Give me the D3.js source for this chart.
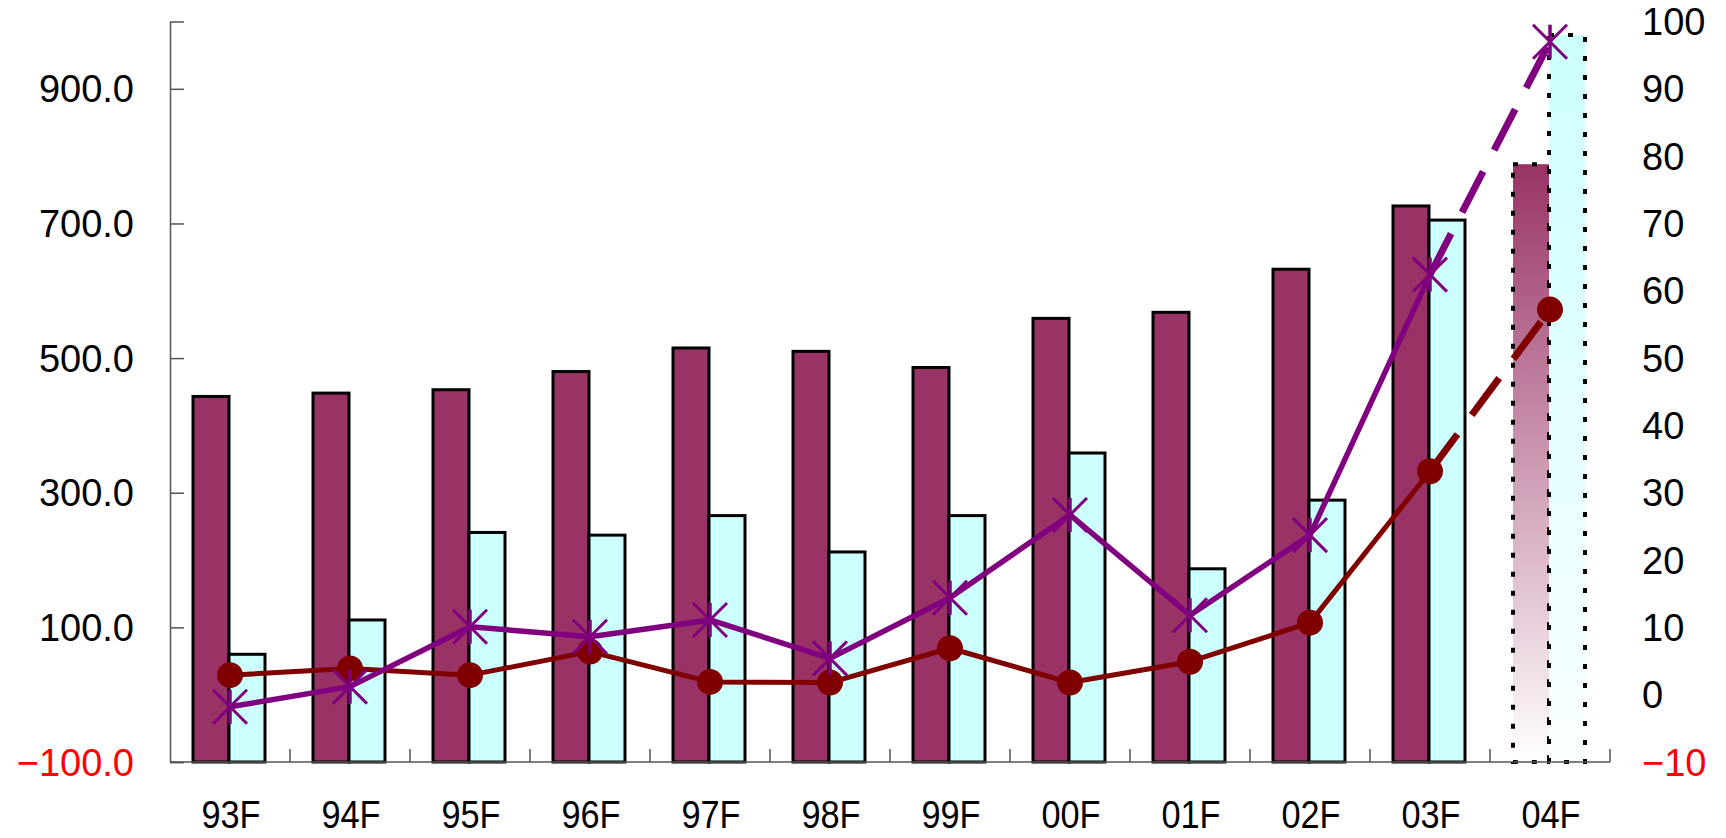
<!DOCTYPE html>
<html>
<head>
<meta charset="utf-8">
<script src="https://cdn.jsdelivr.net/npm/d3@7"></script>
<style>
  html, body { margin: 0; padding: 0; background: #ffffff; }
  svg { display: block; }
</style>
</head>
<body>
<svg id="chart" width="1726" height="838"></svg>
<script>
// ---------- data ----------
const categories = ["93F","94F","95F","96F","97F","98F","99F","00F","01F","02F","03F","04F"];
const barMaroon  = [443, 448, 453, 480, 515, 510, 486, 559, 568, 632, 726, 788];
const barCyan    = [60, 111, 241, 237, 266, 212, 266, 359, 187, 289, 705, 980];
const lineCircle = [2.9, 3.9, 2.9, 6.4, 1.9, 1.8, 6.9, 1.8, 4.9, 10.7, 33.2, 57.2];
const lineStar   = [-1.8, 1.2, 10.1, 8.6, 11.1, 5.4, 14.4, 26.7, 11.8, 23.7, 62.4, 97.0];
const leftTicks  = [-100, 100, 300, 500, 700, 900];
const rightTicks = [-10, 0, 10, 20, 30, 40, 50, 60, 70, 80, 90, 100];
const forecastCategory = "04F";

// ---------- layout ----------
const svg = d3.select("#chart");
const plot = { left: 170, right: 1610, top: 21.5, bottom: 762 };
const FONT = "'Liberation Sans', Arial, sans-serif";

const x = d3.scaleBand().domain(categories).range([plot.left, plot.right]).padding(0);
const yL = d3.scaleLinear().domain([-100, 1000]).range([plot.bottom, plot.top]);
const yR = d3.scaleLinear().domain([-10, 100]).range([plot.bottom, plot.top]);
const cx = c => x(c) + x.bandwidth() / 2;
const barW = 36;
const fIdx = categories.indexOf(forecastCategory);

// gradients for forecast bars
const defs = svg.append("defs");
function grad(id, top, bottom) {
  const g = defs.append("linearGradient").attr("id", id)
    .attr("x1", 0).attr("y1", 0).attr("x2", 0).attr("y2", 1);
  g.append("stop").attr("offset", "0%").attr("stop-color", top);
  g.append("stop").attr("offset", "100%").attr("stop-color", bottom);
}
grad("gMaroon", "#993366", "#ffffff");
grad("gCyan", "#ccffff", "#fbffff");

// ---------- bars ----------
const series = [
  { values: barMaroon, fill: "#993366", grad: "url(#gMaroon)", off: -barW },
  { values: barCyan,   fill: "#ccffff", grad: "url(#gCyan)",   off: 0 }
];
series.forEach(s => {
  svg.append("g").selectAll("rect").data(categories).join("rect")
    .attr("x", c => cx(c) + s.off - 1)
    .attr("width", barW)
    .attr("y", (c, i) => yL(s.values[i]))
    .attr("height", (c, i) => yL(-100) - yL(s.values[i]))
    .attr("fill", (c, i) => i === fIdx ? s.grad : s.fill)
    .attr("stroke", "#000")
    .attr("stroke-width", (c, i) => i === fIdx ? 4 : 3)
    .attr("stroke-dasharray", (c, i) => i === fIdx ? "5,14" : null);
});

// ---------- axes ----------
const axisColor = "#555";
// left axis
const gL = svg.append("g").attr("transform", `translate(${plot.left},0)`)
  .call(d3.axisRight(yL).tickValues(leftTicks).tickSize(14).tickFormat(""));
gL.select(".domain").attr("stroke", axisColor).attr("stroke-width", 1.5);
gL.selectAll(".tick line").attr("stroke", axisColor).attr("stroke-width", 1.5);
svg.append("g").selectAll("text").data(leftTicks).join("text")
  .attr("x", 134).attr("y", d => yL(d)).attr("dy", "0.36em")
  .attr("text-anchor", "end")
  .attr("font-family", FONT).attr("font-size", 38)
  .attr("fill", d => d < 0 ? "#ff0000" : "#000")
  .text(d => (d < 0 ? "\u2212" : "") + Math.abs(d).toFixed(1));

// right axis labels (no line)
svg.append("g").selectAll("text").data(rightTicks).join("text")
  .attr("x", 1642).attr("y", d => yR(d)).attr("dy", "0.36em")
  .attr("text-anchor", "start")
  .attr("font-family", FONT).attr("font-size", 38)
  .attr("fill", d => d < 0 ? "#ff0000" : "#000")
  .text(d => (d < 0 ? "\u2212" : "") + Math.abs(d));

// bottom axis
const bounds = categories.map(c => x(c)).concat([plot.right]);
const gB = svg.append("g");
gB.append("line").attr("x1", plot.left).attr("x2", plot.right)
  .attr("y1", plot.bottom).attr("y2", plot.bottom)
  .attr("stroke", axisColor).attr("stroke-width", 1.5);
gB.selectAll("line.tk").data(bounds.slice(1)).join("line").attr("class", "tk")
  .attr("x1", d => d).attr("x2", d => d)
  .attr("y1", plot.bottom).attr("y2", plot.bottom - 13)
  .attr("stroke", axisColor).attr("stroke-width", 1.5);
gB.selectAll("text").data(categories).join("text")
  .attr("transform", c => `translate(${cx(c) + 1},828) scale(0.88,1)`)
  .attr("text-anchor", "middle")
  .attr("font-family", FONT).attr("font-size", 39)
  .attr("fill", "#000")
  .text(c => c);

// ---------- lines ----------
function drawLine(values, color, width) {
  const pts = categories.map((c, i) => [cx(c), yR(values[i])]);
  const line = d3.line();
  svg.append("path").attr("d", line(pts.slice(0, fIdx)))
    .attr("fill", "none").attr("stroke", color).attr("stroke-width", width)
    .attr("stroke-linejoin", "round");
  svg.append("path").attr("d", line(pts.slice(fIdx - 1, fIdx + 1)))
    .attr("fill", "none").attr("stroke", color).attr("stroke-width", 7)
    .attr("stroke-dasharray", "46,24");
  return pts;
}

// maroon circles
const pC = drawLine(lineCircle, "#800000", 5);
svg.append("g").selectAll("circle").data(pC).join("circle")
  .attr("cx", d => d[0]).attr("cy", d => d[1]).attr("r", 13)
  .attr("fill", "#800000");

// purple stars
const pS = drawLine(lineStar, "#800080", 5.5);
const star = svg.append("g").selectAll("g").data(pS).join("g")
  .attr("transform", d => `translate(${d[0]},${d[1]})`);
const s = 17;
star.append("path")
  .attr("d", `M${-s},${-s}L${s},${s}M${-s},${s}L${s},${-s}`)
  .attr("stroke", "#800080").attr("stroke-width", 3);
star.append("path")
  .attr("d", `M0,${-s}L0,${s}`)
  .attr("stroke", "#800080").attr("stroke-width", 3.5);
</script>
</body>
</html>
